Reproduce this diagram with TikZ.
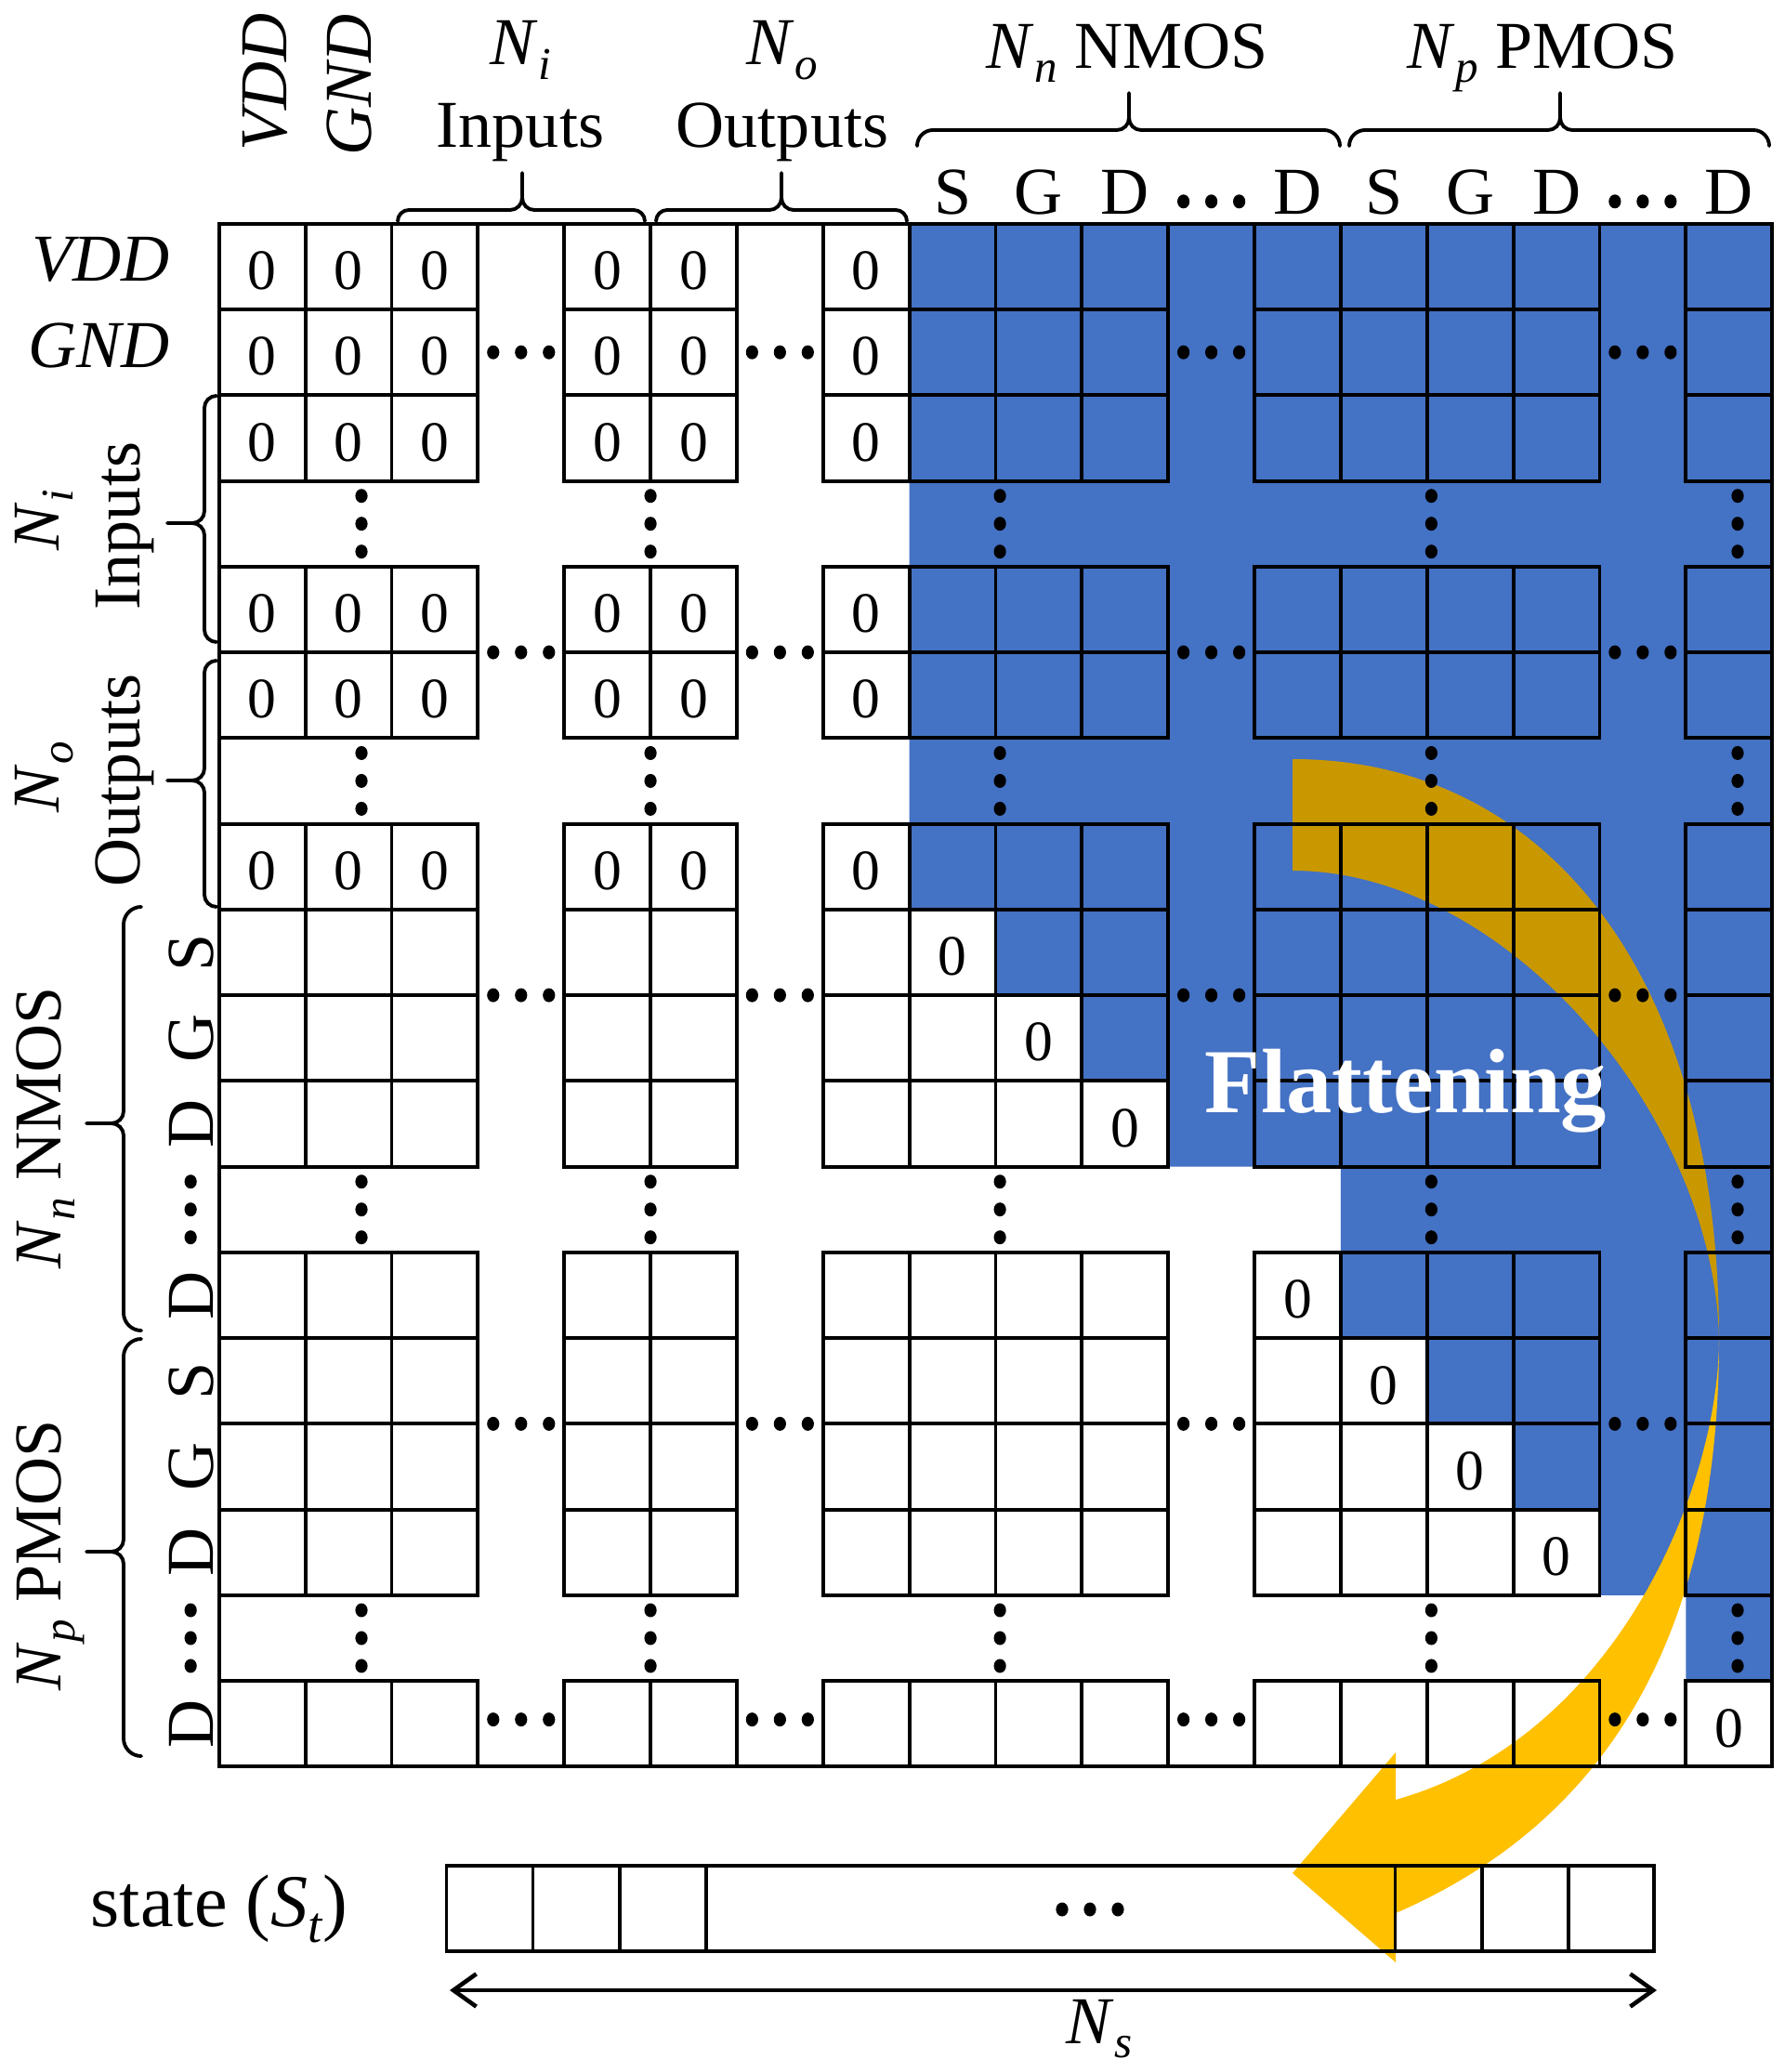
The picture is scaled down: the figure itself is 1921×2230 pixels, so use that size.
\documentclass[tikz,border=0pt]{standalone}
\usepackage{fontspec}
\setmainfont{Liberation Serif}
\usepackage{graphicx}
\usetikzlibrary{arrows.meta}
\definecolor{cellblue}{HTML}{4472C4}
\definecolor{arrowgold}{HTML}{FFC000}
\colorlet{arrowdark}{arrowgold!79!black}
\newcommand\subl[1]{\raisebox{-0.22em}{\scalebox{0.68}{\textit{#1}}}}
\newcommand\Nl[1]{\textit{N}\kern0.01em\subl{#1}}
% horizontal brace, tip up: x1 x2 xm yend r
\newcommand\mkhbrace[5]{%
 \draw[brc] (#1,#4) .. controls (#1,{#4-0.55*#5}) and ({#1+0.45*#5},{#4-#5}) .. ({#1+#5},{#4-#5})
   -- ({#3-13},{#4-#5}) .. controls ({#3-5.85},{#4-#5}) and (#3,{#4-#5-5.85}) .. (#3,{#4-#5-13})
   -- (#3,{#4-#5-40});
 \draw[brc] (#3,{#4-#5-13}) .. controls (#3,{#4-#5-5.85}) and ({#3+5.85},{#4-#5}) .. ({#3+13},{#4-#5})
   -- ({#2-#5},{#4-#5}) .. controls ({#2-0.45*#5},{#4-#5}) and (#2,{#4-0.55*#5}) .. (#2,#4);}
% vertical brace, tip left: y1 y2 ym xend r
\newcommand\mkvbrace[5]{%
 \draw[brc] (#4,#1) .. controls ({#4-0.55*#5},#1) and ({#4-#5},{#1+0.45*#5}) .. ({#4-#5},{#1+#5})
   -- ({#4-#5},{#3-13}) .. controls ({#4-#5},{#3-5.85}) and ({#4-#5-5.85},#3) .. ({#4-#5-13},#3)
   -- ({#4-#5-40},#3);
 \draw[brc] ({#4-#5-13},#3) .. controls ({#4-#5-5.85},#3) and ({#4-#5},{#3+5.85}) .. ({#4-#5},{#3+13})
   -- ({#4-#5},{#2-#5}) .. controls ({#4-#5},{#2-0.45*#5}) and ({#4-0.55*#5},#2) .. (#4,#2);}
\newcommand\hdts[2]{\foreach \k in {-1,0,1}{\fill ({#1+\k*0.323},#2) ellipse [x radius=0.066cm, y radius=0.075cm];}}
\newcommand\vdts[2]{\foreach \k in {-1,0,1}{\fill (#1,{#2+\k*0.325}) ellipse [x radius=0.066cm, y radius=0.075cm];}}
\begin{document}
\begin{tikzpicture}[x=0.01cm, y=-0.01cm,
  lab/.style={font=\fontsize{20.5}{24}\selectfont, inner sep=0pt},
  zero/.style={font=\fontsize{17.5}{20}\selectfont, inner sep=0pt},
  cellline/.style={line width=1.1pt},
  stline/.style={line width=1pt},
  brc/.style={line width=1.1pt, line cap=round, line join=round},
  dimarr/.style={line width=1.3pt, arrows={Straight Barb[length=7pt,width=10pt]-Straight Barb[length=7pt,width=10pt]}}]
\useasboundingbox (0,0) rectangle (1921,2230);
\fill[white] (0,0) rectangle (1921,2230);
% blue region
\begin{scope}[shift={(235.8,240.8)}, x=0.928cm, y=-0.922cm]
 \fill[cellblue] (8,0) -- (18,0) -- (18,17) -- (17,17) -- (17,16) -- (16,16) -- (16,15) -- (15,15)
   -- (15,14) -- (14,14) -- (14,13) -- (13,13) -- (13,11) -- (11,11) -- (11,10) -- (10,10)
   -- (10,9) -- (9,9) -- (9,8) -- (8,8) -- cycle;
\end{scope}
% flattening arrow
\fill[arrowdark] (1391,817) .. controls (1667,817) and (1850,1054) .. (1850,1441)
   .. controls (1845,1200) and (1620,937) .. (1391,937) -- cycle;
\fill[arrowgold] (1850,1441) .. controls (1850,1760) and (1730,1960) .. (1502,2059)
   -- (1502,2112) -- (1391,2016) -- (1502,1886) -- (1502,1937)
   .. controls (1740,1870) and (1850,1600) .. (1850,1441) -- cycle;
% grid
\begin{scope}[shift={(235.8,240.8)}, x=0.928cm, y=-0.922cm]
 \foreach \ro in {0,1,2,4,5,7,8,9,10,12,13,14,15,17}
   \foreach \co in {0,1,2,4,5,7,8,9,10,12,13,14,15,17}
     \draw[cellline] (\co,\ro) rectangle ++(1,1);
 \draw[cellline] (0,0) rectangle (18,18);
 \foreach \ro in {0,1,2,4,5,7}
   \foreach \co in {0,1,2,4,5,7}
     \node[zero] (z\ro-\co) at (\co+0.5,\ro+0.55) {0};
 \foreach \dd in {8,9,10,12,13,14,15,17}
   \node[zero] (d\dd) at (\dd+0.5,\dd+0.55) {0};
 \foreach \yy in {1.5,5,9,14,17.45}
   \foreach \xx in {3.5,6.5,11.5,16.5} \hdts{\xx}{\yy};
 \foreach \xx in {1.65,5,9.05,14.05,17.6}
   \foreach \yy in {3.5,6.5,11.5,16.5} \vdts{\xx}{\yy};
 % column letters
 \foreach \co/\ltr in {8/S,9/G,10/D,12/D,13/S,14/G,15/D,17/D}
   \node[lab, anchor=base] (tl\co) at (\co+0.5,-0.117) {\ltr};
 \hdts{11.5}{-0.26}
 \hdts{16.5}{-0.26}
 % row letters
 \foreach \ro/\ltr in {8/S,9/G,10/D,12/D,13/S,14/G,15/D,17/D}
   \node[lab, rotate=90, anchor=base] (ll\ro) at (-0.0625,\ro+0.5) {\ltr};
 \vdts{-0.33}{11.5}
 \vdts{-0.33}{16.5}
\end{scope}
% top labels
\node[lab, rotate=90, anchor=base west] (tvdd) at (308,163) {\textit{VDD}};
\node[lab, rotate=90, anchor=base west] (tgnd) at (399,168) {\textit{GND}};
\node[lab, anchor=base] (tni) at (560,70) {\Nl{i}};
\node[lab, anchor=base] (tinp) at (560,158) {Inputs};
\node[lab, anchor=base] (tno) at (842,70) {\Nl{o}};
\node[lab, anchor=base] (tout) at (842,158) {Outputs};
\node[lab, anchor=base] (tnn) at (1213,73) {\Nl{n} NMOS};
\node[lab, anchor=base] (tnp) at (1660,73) {\Nl{p} PMOS};
\mkhbrace{428}{694}{562}{238}{12}
\mkhbrace{706}{976}{841}{238}{12}
\mkhbrace{987}{1442}{1215}{157}{17}
\mkhbrace{1452}{1904}{1679}{157}{17}
% left labels
\node[lab, anchor=base east] (lvdd) at (183,302) {\textit{VDD}};
\node[lab, anchor=base east] (lgnd) at (183,395) {\textit{GND}};
\node[lab, rotate=90, anchor=base] (lni) at (63,560) {\Nl{i}};
\node[lab, rotate=90, anchor=base] (linp) at (150,566) {Inputs};
\node[lab, rotate=90, anchor=base] (lno) at (63,836) {\Nl{o}};
\node[lab, rotate=90, anchor=base] (lout) at (150,840) {Outputs};
\node[lab, rotate=90, anchor=base] (lnn) at (65,1214) {\Nl{n} NMOS};
\node[lab, rotate=90, anchor=base] (lnp) at (65,1674) {\Nl{p} PMOS};
\mkvbrace{426}{691}{563}{233}{13}
\mkvbrace{711}{976}{840}{233}{13}
\mkvbrace{976}{1432}{1209}{152}{19}
\mkvbrace{1441}{1890}{1670}{152}{19}
% state vector
\node[lab, anchor=base, font=\fontsize{22.8}{27}\selectfont] (stlab) at (236,2073) {state (\textit{S}\subl{t})};
\draw[stline] (480.6,2008) rectangle (1780,2100);
\foreach \xx in {573.5,667,760,1501.5,1595,1688} \draw[stline] (\xx,2008) -- (\xx,2100);
\foreach \k in {-1,0,1} \fill ({1173+\k*30},2055) ellipse [x radius=0.066cm, y radius=0.075cm];
\coordinate (nsL) at (484,2142);
\coordinate (nsR) at (1783,2142);
\draw[dimarr] (nsL) -- (nsR);
\node[lab, anchor=base] (nslab) at (1183,2199) {\Nl{s}};
% flattening label
\node[font=\fontsize{28}{30}\selectfont\bfseries, text=white, inner sep=0pt, anchor=base] (flat) at (1513,1197) {Flattening};
\end{tikzpicture}
\end{document}
